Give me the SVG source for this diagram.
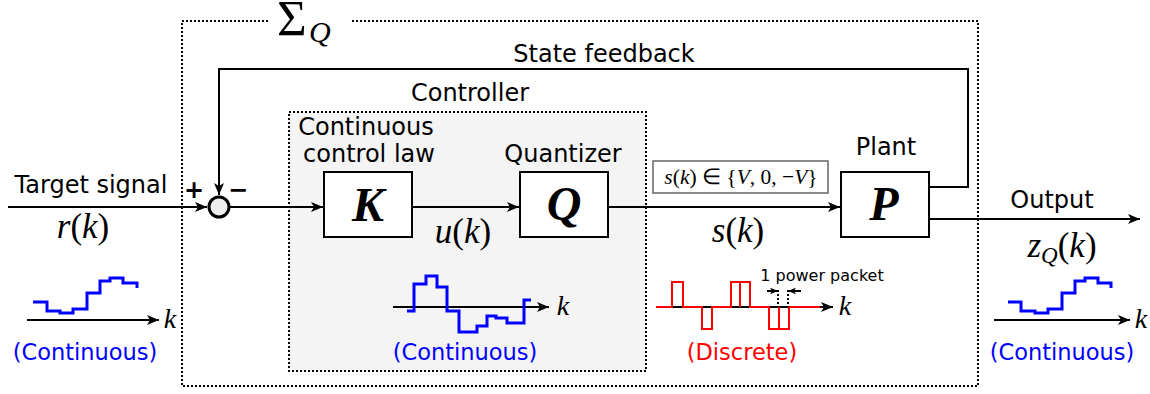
<svg xmlns="http://www.w3.org/2000/svg" width="1150" height="394" viewBox="0 0 1150 394">
<defs>
<style>
.lbl{font-family:"DejaVu Sans",sans-serif;font-size:24px;fill:#000;text-anchor:middle}
.blue{font-family:"DejaVu Sans",sans-serif;font-size:22.5px;fill:#0000ff;text-anchor:middle}
.red{font-family:"DejaVu Sans",sans-serif;font-size:22.5px;fill:#ff0000;text-anchor:middle}
.math{font-family:"Liberation Serif",serif;font-style:italic;font-size:35px;fill:#000;text-anchor:middle}
.rm{font-style:normal}
.big{font-family:"Liberation Serif",serif;font-style:italic;font-weight:bold;font-size:48px;fill:#000;text-anchor:middle}
.wire{fill:none;stroke:#000;stroke-width:2}
.box{fill:#fff;stroke:#000;stroke-width:2}
.axis{fill:none;stroke:#000;stroke-width:2.2}
.bsig{fill:none;stroke:#0000ff;stroke-width:3}
.rsig{fill:none;stroke:#ff0000;stroke-width:2}
</style>
<marker id="arr" viewBox="0 0 12 10" markerWidth="12" markerHeight="10" refX="12" refY="5" orient="auto" markerUnits="userSpaceOnUse">
<path d="M0,0 L12,5 L0,10 L3,5 Z" fill="#000"/>
</marker>
<marker id="arrs" viewBox="0 0 12 10" markerWidth="8" markerHeight="7" refX="12" refY="5" orient="auto" markerUnits="userSpaceOnUse">
<path d="M0,0 L12,5 L0,10 L3,5 Z" fill="#000"/>
</marker>
</defs>
<rect width="1150" height="394" fill="#fff"/>

<g id="sigmaQ-frame">
<path d="M268,21 H182 V386 H978 V21 H350" fill="none" stroke="#000" stroke-width="2" stroke-dasharray="2,2"/>
<text x="277" y="35" font-family="Liberation Serif,serif" font-size="51" fill="#000">Σ</text>
<text x="309" y="42" font-family="Liberation Serif,serif" font-style="italic" font-size="30" fill="#000">Q</text>
</g>

<g id="controller">
<rect x="289" y="112" width="357" height="259" fill="#f4f4f4" stroke="#000" stroke-width="2" stroke-dasharray="2,2"/>
<text class="lbl" x="470" y="101">Controller</text>
</g>

<g id="connectors">
<path class="wire" d="M8,207 H207" marker-end="url(#arr)"/>
<path class="wire" d="M929,187 H968 V69 H219 V195" marker-end="url(#arr)"/>
<path class="wire" d="M229,207 H323" marker-end="url(#arr)"/>
<path class="wire" d="M413,207 H519" marker-end="url(#arr)"/>
<path class="wire" d="M609,207 H840" marker-end="url(#arr)"/>
<path class="wire" d="M929,219 H1140" marker-end="url(#arr)"/>
<text class="lbl" x="604" y="62">State feedback</text>
</g>

<g id="sum">
<circle cx="219" cy="207" r="10" fill="#eeeeee" stroke="#000" stroke-width="3"/>
<text x="194" y="198" font-family="DejaVu Sans,sans-serif" font-weight="bold" font-size="24" fill="#000" text-anchor="middle">+</text>
<text x="238" y="198" font-family="DejaVu Sans,sans-serif" font-weight="bold" font-size="24" fill="#000" text-anchor="middle">−</text>
</g>

<g id="input">
<text class="lbl" x="91" y="193">Target signal</text>
<text class="math" x="83" y="238">r<tspan class="rm">(</tspan>k<tspan class="rm">)</tspan></text>
<path class="axis" d="M27,320 H159" marker-end="url(#arr)"/>
<path class="bsig" d="M33,302 H47 V311 H60 V313 H73 V309 H87 V293 H100 V281 H110 V278 H123 V283 H137 V288"/>
<text class="math" x="170" y="328" style="font-size:28px">k</text>
<text class="blue" x="85" y="360">(Continuous)</text>
</g>

<g id="K">
<rect class="box" x="324" y="172" width="88" height="65"/>
<text class="big" x="368" y="221">K</text>
<text class="lbl" x="366" y="135">Continuous</text>
<text class="lbl" x="369" y="162">control law</text>
</g>

<g id="u-signal">
<text class="math" x="463" y="243">u<tspan class="rm">(</tspan>k<tspan class="rm">)</tspan></text>
<path class="axis" d="M393,307 H549" marker-end="url(#arr)"/>
<path class="bsig" d="M407,311 H414 V284 H426 V276 H437 V287 H447 V311 H459 V332 H477 V326 H487 V316 H496 V318 H507 V323 H524 V300 H531"/>
<text class="math" x="563" y="315" style="font-size:28px">k</text>
<text class="blue" x="465" y="360">(Continuous)</text>
</g>

<g id="Q">
<rect class="box" x="520" y="172" width="88" height="65"/>
<text class="big" x="564" y="220">Q</text>
<text class="lbl" x="563" y="162">Quantizer</text>
</g>

<g id="s-signal">
<rect x="653" y="161" width="175" height="32" fill="#fff" stroke="#666" stroke-width="1.5"/>
<text x="741" y="184" font-family="Liberation Serif,serif" font-size="21.5" fill="#000" text-anchor="middle"><tspan font-style="italic">s</tspan>(<tspan font-style="italic">k</tspan>) ∈ {<tspan font-style="italic">V</tspan>, 0, −<tspan font-style="italic">V</tspan>}</text>
<text class="math" x="738" y="242">s<tspan class="rm">(</tspan>k<tspan class="rm">)</tspan></text>
<path class="axis" d="M656,307 H833" marker-end="url(#arr)"/>
<path class="rsig" d="M656,307 H672 V282 H683 V307 H702 V329 H712 V307 H731 V282 H750 V307 H769 V329 H789 V307 H820"/>
<path class="rsig" d="M740,282 V307 M779,307 V329"/>
<path d="M778,290 V307 M788,290 V307" stroke="#000" stroke-width="2" stroke-dasharray="2,2" fill="none"/>
<path class="wire" d="M767,291 H778" marker-end="url(#arrs)"/>
<path class="wire" d="M801,291 H788" marker-end="url(#arrs)"/>
<text x="822" y="281" font-family="DejaVu Sans,sans-serif" font-size="16" fill="#000" text-anchor="middle">1 power packet</text>
<text class="math" x="845" y="315" style="font-size:28px">k</text>
<text class="red" x="742" y="360">(Discrete)</text>
</g>

<g id="P">
<rect class="box" x="841" y="172" width="88" height="65"/>
<text class="big" x="884" y="220">P</text>
<text class="lbl" x="886" y="155">Plant</text>
</g>

<g id="output">
<text class="lbl" x="1052" y="208">Output</text>
<text x="1062" y="257" font-family="Liberation Serif,serif" font-size="35" fill="#000" text-anchor="middle"><tspan font-style="italic">z</tspan><tspan font-style="italic" font-size="23" dy="6">Q</tspan><tspan dy="-6">(</tspan><tspan font-style="italic">k</tspan>)</text>
<path class="axis" d="M994,320 H1130" marker-end="url(#arr)"/>
<path class="bsig" d="M1008,302 H1021 V311 H1035 V313 H1048 V309 H1062 V293 H1075 V281 H1085 V278 H1098 V283 H1111 V288"/>
<text class="math" x="1141" y="328" style="font-size:28px">k</text>
<text class="blue" x="1062" y="360">(Continuous)</text>
</g>
</svg>
